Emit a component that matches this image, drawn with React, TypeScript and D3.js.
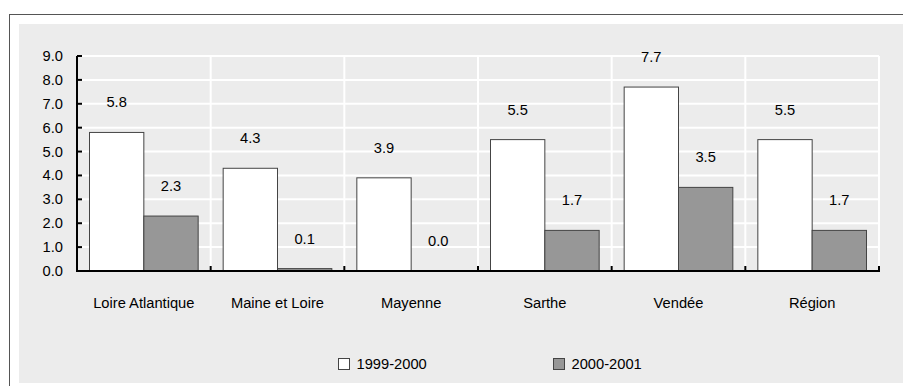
import React from "react";
import * as d3 from "d3";

const categories = ["Loire Atlantique", "Maine et Loire", "Mayenne", "Sarthe", "Vendée", "Région"];
const seriesNames = ["1999-2000", "2000-2001"];
const values1999 = [5.8, 4.3, 3.9, 5.5, 7.7, 5.5];
const values2000 = [2.3, 0.1, 0.0, 1.7, 3.5, 1.7];
const yTicks = [0, 1, 2, 3, 4, 5, 6, 7, 8, 9];
const colors = ["#ffffff", "#979797"];

const W = 903;
const H = 386;
const left = 77;
const right = 879;
const top = 56;
const bottom = 271;
const FONT = "'Liberation Sans', Arial, sans-serif";
const FS = 14.7;

export default function App() {
  const x0 = d3.scaleBand<string>().domain(categories).range([left, right]).padding(0);
  const bw = x0.bandwidth();
  const x1 = d3.scaleBand<string>().domain(seriesNames).range([12.5, bw - 12.5]).padding(0);
  const y = d3.scaleLinear().domain([0, 9]).range([bottom, top]);
  const series = [values1999, values2000];
  const boundaries = categories.map((c) => x0(c) as number).concat([right]);

  return (
    <svg width={W} height={H} style={{ position: "absolute", left: 0, top: 0 }} fontFamily={FONT}>
      <rect x={0} y={0} width={W} height={H} fill="#ffffff" />
      <rect x={9.5} y={14.5} width={W + 10} height={H + 10} fill="#ffffff" stroke="#555" strokeWidth={1} />
      <rect x={19} y={24} width={W} height={359} fill="#ececec" />
      {/* gridlines */}
      {yTicks.filter((t) => t > 0).map((t) => (
        <line key={"h" + t} x1={left} x2={right} y1={y(t)} y2={y(t)} stroke="#ffffff" strokeWidth={2} />
      ))}
      {boundaries.slice(1).map((b, i) => (
        <line key={"v" + i} x1={b} x2={b} y1={top} y2={bottom} stroke="#ffffff" strokeWidth={2} />
      ))}
      {/* bars */}
      {categories.map((c, ci) =>
        seriesNames.map((s, si) => {
          const v = series[si][ci];
          const bx = (x0(c) as number) + (x1(s) as number);
          return (
            <rect
              key={c + s}
              x={bx}
              y={y(v)}
              width={x1.bandwidth()}
              height={bottom - y(v)}
              fill={colors[si]}
              stroke="#444"
              strokeWidth={1}
            />
          );
        })
      )}
      {/* value labels */}
      {categories.map((c, ci) =>
        seriesNames.map((s, si) => {
          const v = series[si][ci];
          const cx = (x0(c) as number) + (x1(s) as number) + x1.bandwidth() / 2;
          return (
            <text key={"l" + c + s} x={cx} y={y(v) - 25} textAnchor="middle" fontSize={FS} fill="#000">
              {v.toFixed(1)}
            </text>
          );
        })
      )}
      {/* axes */}
      <line x1={left} x2={left} y1={top} y2={bottom + 1} stroke="#000" strokeWidth={2} />
      <line x1={left - 1} x2={right + 1} y1={bottom} y2={bottom} stroke="#000" strokeWidth={2} />
      {yTicks.map((t) => (
        <g key={"yt" + t}>
          <line x1={left} x2={left + 5} y1={y(t)} y2={y(t)} stroke="#000" strokeWidth={2} />
          <text x={63} y={y(t) + 5} textAnchor="end" fontSize={FS} fill="#000">
            {t.toFixed(1)}
          </text>
        </g>
      ))}
      {boundaries.slice(1).map((b, i) => (
        <line key={"xt" + i} x1={b} x2={b} y1={bottom - 5} y2={bottom} stroke="#000" strokeWidth={2} />
      ))}
      {categories.map((c) => (
        <text key={"c" + c} x={(x0(c) as number) + bw / 2} y={308} textAnchor="middle" fontSize={FS} fill="#000">
          {c}
        </text>
      ))}
      {/* legend */}
      {seriesNames.map((s, i) => {
        const lx = [338.5, 553.5][i];
        return (
          <g key={"lg" + s}>
            <rect x={lx} y={358.5} width={11} height={11} fill={colors[i]} stroke="#444" strokeWidth={1} />
            <text x={lx + 18} y={369} fontSize={FS} fill="#000">
              {s}
            </text>
          </g>
        );
      })}
    </svg>
  );
}
